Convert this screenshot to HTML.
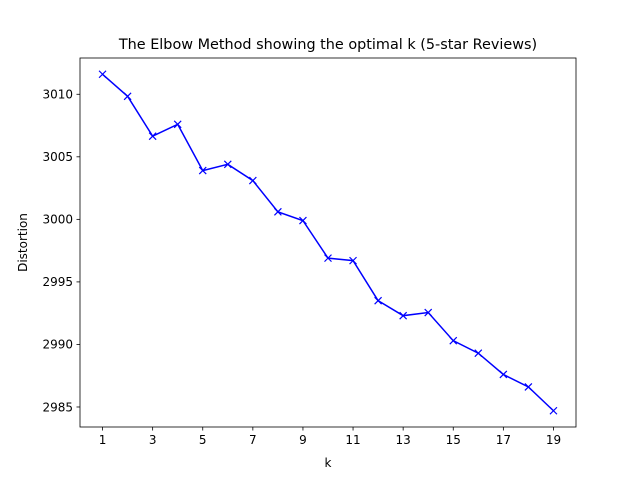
<!DOCTYPE html>
<html><head><meta charset="utf-8"><style>
html,body{margin:0;padding:0;background:#fff;}
svg{display:block;font-family:"DejaVu Sans","Liberation Sans",sans-serif;}
</style></head><body>
<svg id="chart" width="640" height="480">
<rect x="0" y="0" width="640" height="480" fill="#fff"/>
<text x="328" y="49" text-anchor="middle" font-size="14.4">The Elbow Method showing the optimal k (5-star Reviews)</text>
<g id="ticks"></g>
<g id="series"></g>
<rect x="80" y="58" width="496" height="369" fill="none" stroke="#000" stroke-width="0.8"/>
<text x="328" y="467" text-anchor="middle" font-size="12">k</text>
<text x="0" y="0" transform="translate(27,242.5) rotate(-90)" text-anchor="middle" font-size="12">Distortion</text>
</svg>
<script>
const ks = [1,2,3,4,5,6,7,8,9,10,11,12,13,14,15,16,17,18,19];
const distortion = [3011.6,3009.84,3006.65,3007.6,3003.9,3004.4,3003.1,3000.6,2999.9,2996.9,2996.7,2993.5,2992.3,2992.55,2990.3,2989.3,2987.6,2986.6,2984.7];
const xTicks = [1,3,5,7,9,11,13,15,17,19];
const yTicks = [2985,2990,2995,3000,3005,3010];
const L=80,R=576,T=58,B=427;
const xMin=0.1,xMax=19.9,yMin=2983.4,yMax=3012.9;
const xs=v=>L+(v-xMin)/(xMax-xMin)*(R-L);
const ys=v=>B-(v-yMin)/(yMax-yMin)*(B-T);
const NS="http://www.w3.org/2000/svg";
const tg=document.getElementById('ticks'), sg=document.getElementById('series');
function mk(tag,attrs,parent){const e=document.createElementNS(NS,tag);for(const k in attrs)e.setAttribute(k,attrs[k]);parent.appendChild(e);return e;}
xTicks.forEach(v=>{
 const x=xs(v);
 const l=mk('line',{x1:x,x2:x,y1:B,y2:B+3.5,stroke:'#000','stroke-width':0.8},tg);
 
 
 const t=mk('text',{x:x,y:B+17,'text-anchor':'middle','font-size':12},tg);t.textContent=v;
 
 
});
yTicks.forEach(v=>{
 const y=ys(v);
 const l=mk('line',{x1:L-3.5,x2:L,y1:y,y2:y,stroke:'#000','stroke-width':0.8},tg);
 
 
 const t=mk('text',{x:L-7,y:y+4.3,'text-anchor':'end','font-size':12},tg);t.textContent=v;
 
 
});
const pts=ks.map((k,i)=>xs(k)+','+ys(distortion[i])).join(' ');
const pl=mk('polyline',{points:pts,fill:'none',stroke:'#0000ff','stroke-width':1.5},sg);


ks.forEach((k,i)=>{
 const x=xs(k),y=ys(distortion[i]),s=3.5;
 const p=mk('path',{d:`M${x-s},${y-s}L${x+s},${y+s}M${x-s},${y+s}L${x+s},${y-s}`,stroke:'#0000ff','stroke-width':1.2,fill:'none'},sg);
 
 
});
</script>
</body></html>
